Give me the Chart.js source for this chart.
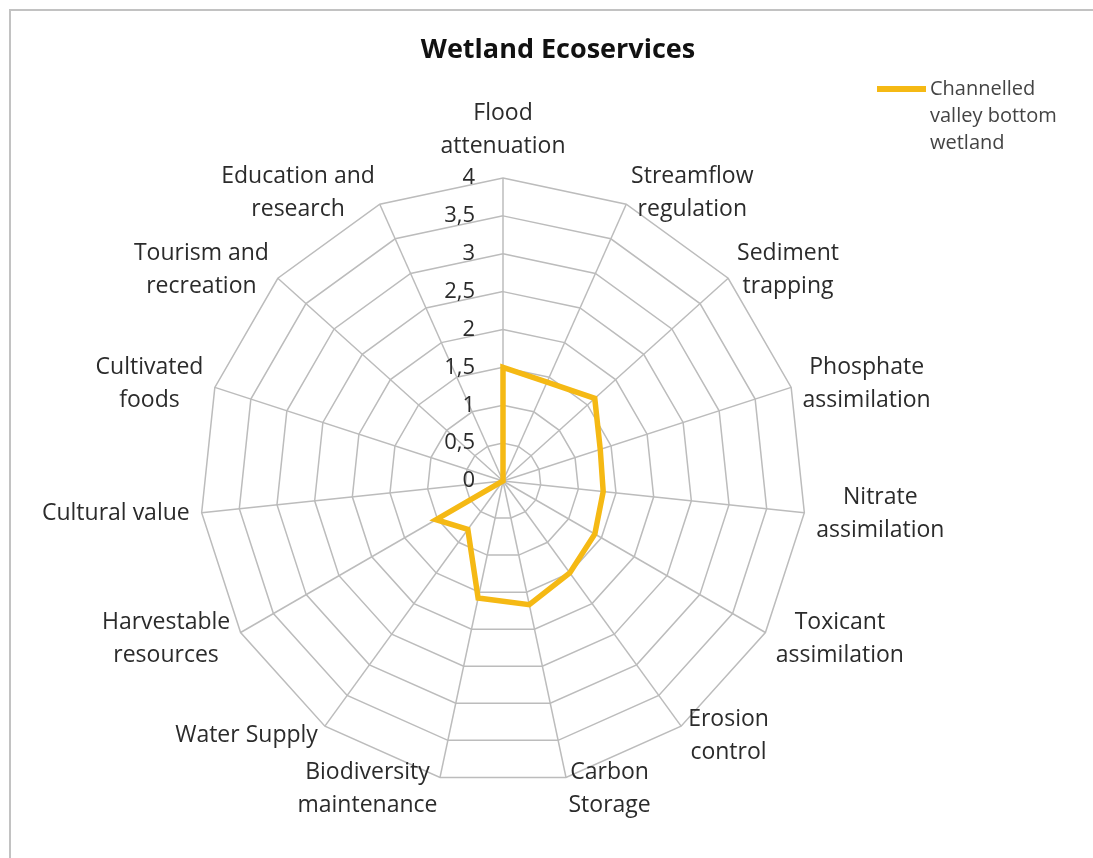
<!DOCTYPE html>
<html lang="en">
<head>
    <meta charset="UTF-8">
    <meta name="viewport" content="width=device-width, initial-scale=1.0">
    <title>Wetland Ecoservices</title>
    <style>
        html, body { margin: 0; padding: 0; background: #fff; }
        #box { width: 1093px; height: 858px; position: relative; }
    </style>
</head>
<body>
    <div id="box">
        <canvas id="myChart"></canvas>
    </div>

<script src="https://cdn.jsdelivr.net/npm/chart.js"></script>
<script>
    // data
    const categories = [
        ['Flood', 'attenuation'],
        ['Streamflow', 'regulation'],
        ['Sediment', 'trapping'],
        ['Phosphate', 'assimilation'],
        ['Nitrate', 'assimilation'],
        ['Toxicant', 'assimilation'],
        ['Erosion', 'control'],
        ['Carbon', 'Storage'],
        ['Biodiversity', 'maintenance'],
        ['Water Supply'],
        ['Harvestable', 'resources'],
        ['Cultural value'],
        ['Cultivated', 'foods'],
        ['Tourism and', 'recreation'],
        ['Education and', 'research']
    ];
    const wetlandScores = [1.5, 1.43, 1.63, 1.35, 1.33, 1.4, 1.5, 1.67, 1.58, 0.79, 1.02, 0, 0, 0, 0];
    const tickValues = [0, 0.5, 1, 1.5, 2, 2.5, 3, 3.5, 4];
    const tickLabels = ['0', '0,5', '1', '1,5', '2', '2,5', '3', '3,5', '4'];
    const seriesName = ['Channelled', 'valley bottom', 'wetland'];
    const chartTitle = 'Wetland Ecoservices';

    const gold = '#F5B914';
    const textColor = '#2b2b2b';

    Chart.defaults.font.family = '"Open Sans", sans-serif';

    // Excel-like frame, axis numbers, category labels, title and legend
    const excelLook = {
        id: 'excelLook',
        beforeDraw(chart) {
            const ctx = chart.ctx;
            ctx.save();
            ctx.strokeStyle = '#c2c2c2';
            ctx.lineWidth = 2;
            ctx.beginPath();
            ctx.moveTo(10, chart.height);
            ctx.lineTo(10, 10);
            ctx.lineTo(chart.width, 10);
            ctx.stroke();
            ctx.restore();
        },
        afterDraw(chart) {
            const ctx = chart.ctx;
            const s = chart.scales.r;
            ctx.save();
            ctx.fillStyle = textColor;

            // value ticks, left of the top spoke
            ctx.font = '22px "Open Sans"';
            ctx.textAlign = 'right';
            ctx.textBaseline = 'middle';
            tickValues.forEach((v, i) => {
                const d = s.getDistanceFromCenterForValue(v);
                ctx.fillText(tickLabels[i], s.xCenter - 28, s.yCenter - d);
            });

            // category labels
            ctx.font = '23px "Open Sans"';
            ctx.textAlign = 'center';
            const lineH = 33;
            categories.forEach((lines, i) => {
                const deg = Math.round(s.getIndexAngle(i) * 180 / Math.PI) % 360;
                const p = s.getPointPosition(i, s.drawingArea + 12);
                const w = Math.max(...lines.map(t => ctx.measureText(t).width));
                const h = lines.length * lineH;
                let left, top;
                if (deg === 0) {
                    left = p.x - w / 2;
                    top = p.y - h - 3;
                } else if (deg === 180) {
                    left = p.x - w / 2;
                    top = p.y;
                } else {
                    left = deg < 180 ? p.x : p.x - w;
                    top = p.y - h / 2;
                }
                lines.forEach((t, k) => {
                    ctx.fillText(t, left + w / 2, top + lineH * (k + 0.5));
                });
            });

            // title
            ctx.font = 'bold 27px "Open Sans"';
            ctx.fillStyle = '#111';
            ctx.fillText(chartTitle, 558, 50);

            // legend
            ctx.strokeStyle = gold;
            ctx.lineWidth = 6;
            ctx.beginPath();
            ctx.moveTo(877, 89);
            ctx.lineTo(926, 89);
            ctx.stroke();
            ctx.font = '20px "Open Sans"';
            ctx.fillStyle = '#444';
            ctx.textAlign = 'left';
            seriesName.forEach((t, k) => ctx.fillText(t, 930, 89 + k * 27));

            ctx.restore();
        }
    };

    const ctx = document.getElementById('myChart');

    new Chart(ctx, {
        type: 'radar',
        data: {
            labels: categories.map(c => c.join(' ')),
            datasets: [{
                label: seriesName.join(' '),
                data: wetlandScores,
                borderColor: gold,
                backgroundColor: 'rgba(0,0,0,0)',
                borderWidth: 5.5,
                borderJoinStyle: 'miter',
                pointRadius: 0,
                pointHoverRadius: 0,
                fill: false,
                tension: 0
            }]
        },
        options: {
            responsive: true,
            maintainAspectRatio: false,
            animation: false,
            layout: {
                padding: { left: 200, right: 287, top: 178, bottom: 74 }
            },
            plugins: {
                legend: { display: false },
                title: { display: false },
                tooltip: { enabled: false }
            },
            scales: {
                r: {
                    min: 0,
                    max: 4,
                    ticks: { display: false, stepSize: 0.5 },
                    pointLabels: { display: false },
                    grid: { color: '#bcbcbc', lineWidth: 1.5, circular: false },
                    angleLines: { color: '#bcbcbc', lineWidth: 1.5 }
                }
            }
        },
        plugins: [excelLook]
    });
</script>
</body>
</html>
